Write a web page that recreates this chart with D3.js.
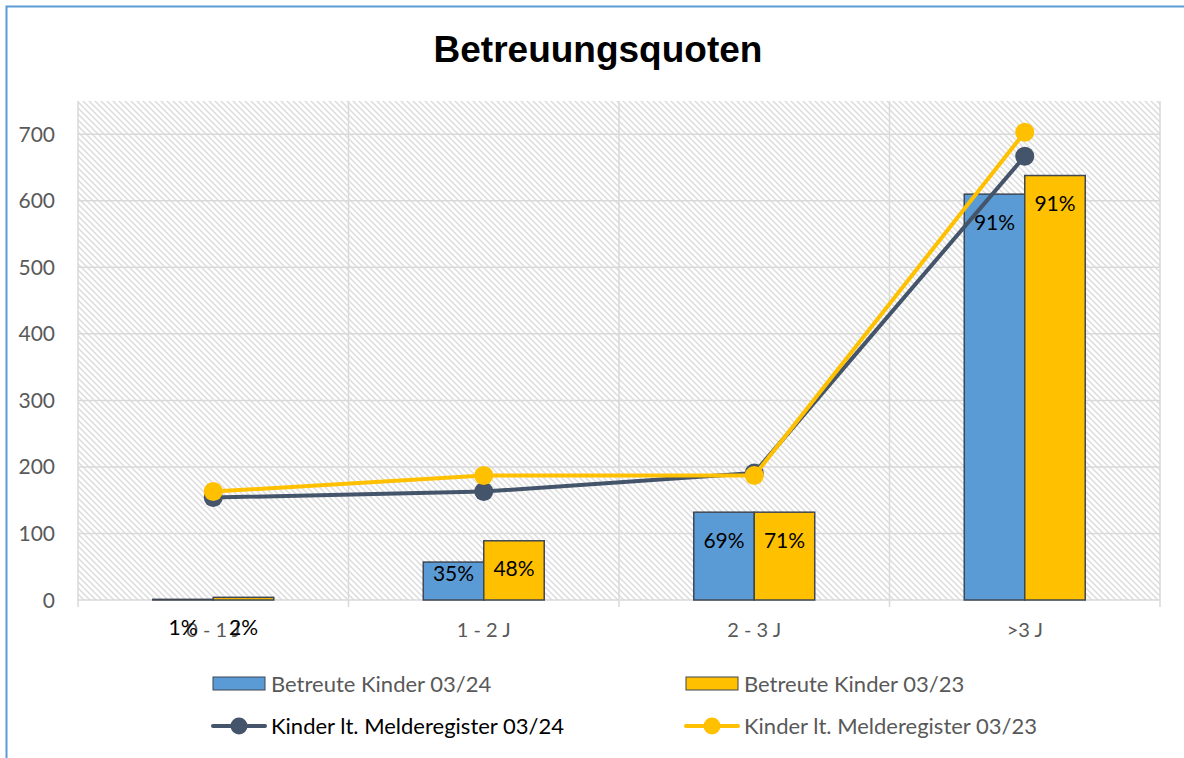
<!DOCTYPE html>
<html><head><meta charset="utf-8">
<script src="https://cdn.jsdelivr.net/npm/d3@7"></script>
<style>html,body{margin:0;padding:0;background:#fff;} svg{display:block;}</style>
</head><body>
<svg id="c" width="1184" height="758"></svg>
<script>
const categories = ["0 - 1 J", "1 - 2 J", "2 - 3 J", ">3 J"];
const betreut24 = [1, 57, 132, 610];
const betreut23 = [4, 89, 132, 638];
const melde24 = [154, 163, 191, 667];
const melde23 = [163, 187, 187, 703];
const pct24 = ["1%", "35%", "69%", "91%"];
const pct23 = ["2%", "48%", "71%", "91%"];
const yTicks = [0, 100, 200, 300, 400, 500, 600, 700];
const seriesNames = ["Betreute Kinder 03/24", "Betreute Kinder 03/23", "Kinder lt. Melderegister 03/24", "Kinder lt. Melderegister 03/23"];

const svg = d3.select("#c");
const font = "Lato, 'Open Sans', sans-serif";
const C = {blue: "#5B9BD5", gold: "#FFC000", navy: "#44546A", grid: "#D9D9D9", text: "#595959"};

// outer border
svg.append("rect").attr("x", 6.5).attr("y", 6.5).attr("width", 1250).attr("height", 850)
  .attr("fill", "#fff").attr("stroke", "#5B9BD5").attr("stroke-width", 2);

// title
svg.append("text").attr("x", 598).attr("y", 62).attr("text-anchor", "middle")
  .attr("font-family", "'Liberation Sans', Arial, sans-serif").attr("font-weight", "bold")
  .attr("font-size", 37).attr("fill", "#000").text("Betreuungsquoten");

const L = 78, R = 1160, T = 101, B = 600;
const x = d3.scaleBand().domain(categories).range([L, R]).padding(0);
const y = d3.scaleLinear().domain([0, 750]).range([B, T]);
const bw = x.bandwidth();
const xs = d3.scaleBand().domain(["24", "23"]).range([bw * 0.2764, bw * 0.7236]).padding(0);

// hatch pattern
const defs = svg.append("defs");
const pat = defs.append("pattern").attr("id", "hatch").attr("patternUnits", "userSpaceOnUse")
  .attr("width", 6).attr("height", 6);
pat.append("rect").attr("width", 6).attr("height", 6).attr("fill", "#fff");
pat.append("path").attr("d", "M-1,-1 L7,7 M-1,5 L1,7 M5,-1 L7,1")
  .attr("stroke", "#DCDCDC").attr("stroke-width", 1.5);

svg.append("rect").attr("x", L).attr("y", T).attr("width", R - L).attr("height", B - T)
  .attr("fill", "url(#hatch)");

// horizontal gridlines
svg.append("g").selectAll("line").data(yTicks).join("line")
  .attr("x1", L).attr("x2", R).attr("y1", d => y(d)).attr("y2", d => y(d))
  .attr("stroke", C.grid).attr("stroke-width", 1.5);

// vertical gridlines at category boundaries (extend as ticks)
const bounds = categories.map(c => x(c)).concat([R]);
svg.append("g").selectAll("line").data(bounds).join("line")
  .attr("x1", d => d).attr("x2", d => d).attr("y1", T).attr("y2", B + 7)
  .attr("stroke", C.grid).attr("stroke-width", 1.5);

// y tick labels
svg.append("g").selectAll("text").data(yTicks).join("text")
  .attr("x", 55).attr("y", d => y(d)).attr("dy", "0.36em").attr("text-anchor", "end")
  .attr("font-family", font).attr("font-size", 21).attr("fill", C.text).text(d => d);

// category labels
svg.append("g").selectAll("text").data(categories).join("text")
  .attr("x", d => x(d) + bw / 2).attr("y", 630).attr("dy", "0.36em").attr("text-anchor", "middle")
  .attr("font-family", font).attr("font-size", 20).attr("fill", C.text).text(d => d);

// bars
const barSeries = [
  {key: "24", vals: betreut24, color: C.blue, pct: pct24},
  {key: "23", vals: betreut23, color: C.gold, pct: pct23}
];
barSeries.forEach(s => {
  svg.append("g").selectAll("rect").data(categories).join("rect")
    .attr("x", (c) => x(c) + xs(s.key)).attr("width", xs.bandwidth())
    .attr("y", (c, i) => y(s.vals[i])).attr("height", (c, i) => y(0) - y(s.vals[i]))
    .attr("fill", s.color).attr("stroke", "#3F4753").attr("stroke-width", 1.5);
});

// lines
const lineSeries = [
  {vals: melde24, color: C.navy},
  {vals: melde23, color: C.gold}
];
const line = d3.line().x(d => d[0]).y(d => d[1]);
lineSeries.forEach(s => {
  const pts = categories.map((c, i) => [x(c) + bw / 2, y(s.vals[i])]);
  svg.append("path").attr("d", line(pts)).attr("fill", "none")
    .attr("stroke", s.color).attr("stroke-width", 4).attr("stroke-linejoin", "round");
  svg.append("g").selectAll("circle").data(pts).join("circle")
    .attr("cx", d => d[0]).attr("cy", d => d[1]).attr("r", 9.5).attr("fill", s.color);
});

// percentage labels
barSeries.forEach(s => {
  svg.append("g").selectAll("text").data(categories).join("text")
    .attr("x", c => x(c) + xs(s.key) + xs.bandwidth() / 2)
    .attr("y", (c, i) => {
      const h = y(0) - y(s.vals[i]);
      if (h > 56) return y(s.vals[i]) + 28;
      if (h > 20) return y(0) - 27;
      return y(0) + 27;
    })
    .attr("dy", "0.36em").attr("text-anchor", "middle")
    .attr("font-family", font).attr("font-size", 21).attr("fill", "#000")
    .text((c, i) => s.pct[i]);
});

// legend
const lg = svg.append("g");
const legendItems = [
  {name: seriesNames[0], type: "bar", color: C.blue, x: 213, y: 684, tc: C.text},
  {name: seriesNames[1], type: "bar", color: C.gold, x: 686, y: 684, tc: C.text},
  {name: seriesNames[2], type: "line", color: C.navy, x: 213, y: 726, tc: "#000"},
  {name: seriesNames[3], type: "line", color: C.gold, x: 686, y: 726, tc: C.text}
];
legendItems.forEach(it => {
  if (it.type === "bar") {
    lg.append("rect").attr("x", it.x).attr("y", it.y - 7).attr("width", 52).attr("height", 13)
      .attr("fill", it.color).attr("stroke", "#3F4753").attr("stroke-width", 1);
  } else {
    lg.append("line").attr("x1", it.x).attr("x2", it.x + 52).attr("y1", it.y).attr("y2", it.y)
      .attr("stroke", it.color).attr("stroke-width", 4).attr("stroke-linecap", "round");
    lg.append("circle").attr("cx", it.x + 26).attr("cy", it.y).attr("r", 8.5).attr("fill", it.color);
  }
  lg.append("text").attr("x", it.x + 58).attr("y", it.y).attr("dy", "0.36em")
    .attr("font-family", font).attr("font-size", 22).attr("fill", it.tc).text(it.name);
});
</script>
</body></html>
